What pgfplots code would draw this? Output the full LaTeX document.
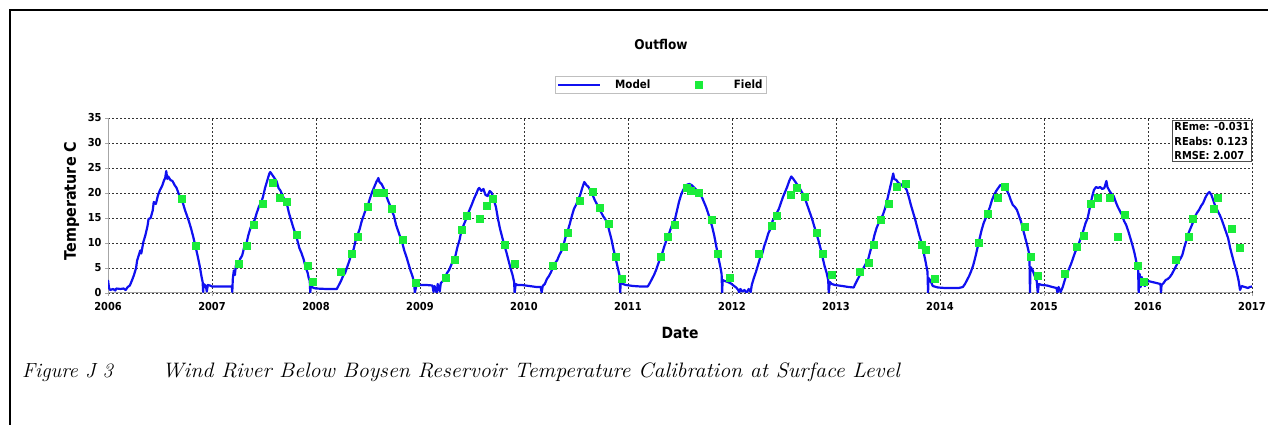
\documentclass[border=0pt]{standalone}
\usepackage{fontspec}
\setsansfont{DejaVu Sans Condensed}
\usepackage{pgfplots}
\pgfplotsset{compat=1.18}
\definecolor{modelblue}{HTML}{1010F0}
\definecolor{fieldgreen}{HTML}{1AEC3A}
\newcommand{\chartfont}[1]{\sffamily\bfseries\fontsize{#1}{#1}\selectfont}

\begin{document}
\begin{tikzpicture}
\useasboundingbox (0,0) rectangle (1268bp,425bp);
% page frame (top and left only)
\draw[line width=2bp] (9.5bp,0bp) -- (9.5bp,414.5bp) -- (1268bp,414.5bp);

\begin{axis}[
    at={(108bp,132bp)}, anchor=south west,
    scale only axis, width=1144bp, height=175bp,
    xmin=2006, xmax=2017, ymin=0, ymax=35,
    xtick={2006,2007,...,2017}, ytick={0,5,...,35},
    axis x line*=bottom, axis y line*=left,
    axis line style={draw=gray!70, line width=1bp},
    tick align=outside, major tick length=3bp,
    tick style={gray!70, line width=0.8bp},
    grid=major,
    grid style={black!80, line width=0.6bp, dash pattern=on 2bp off 2bp},
    /pgf/number format/assume math mode=true,
    ticklabel style={font=\chartfont{11}},
    xticklabel style={/pgf/number format/1000 sep={}, yshift=-3bp},
    xlabel={Date},
    xlabel style={at={(axis description cs:0.5,-0.2286)}, anchor=center, font=\chartfont{15.5}},
    ylabel={Temperature C},
    ylabel style={at={(axis description cs:-0.0319,0.526)}, anchor=center, font=\chartfont{16}},
    title={Outflow},
    title style={at={(axis description cs:0.4834,1.388)}, anchor=center, font=\chartfont{13.5}},
    legend columns=2,
    legend style={at={(axis description cs:0.4834,1.1886)}, anchor=center,
        draw=gray!50, line width=0.8bp, font=\chartfont{11.5},
        inner ysep=1.5bp, inner xsep=2bp,
        /tikz/every odd column/.append style={column sep=12bp},
        /tikz/every even column/.append style={column sep=25.5bp}},
]
\addplot[modelblue, line width=2.2bp, line join=round,
    legend image code/.code={\draw[modelblue, line width=1.6bp] (0bp,0bp) -- (42bp,0bp);}]
coordinates {
(2006.00,2.6) (2006.01,1.0) (2006.02,0.6) (2006.05,0.8) (2006.07,0.5) (2006.08,0.9)
(2006.12,0.8) (2006.15,0.9) (2006.17,0.6) (2006.19,1.2) (2006.21,1.5) (2006.23,2.5)
(2006.25,3.6) (2006.27,5.0) (2006.28,6.5) (2006.30,7.8) (2006.31,8.5) (2006.32,7.9)
(2006.34,10.2) (2006.36,11.6) (2006.38,13.4) (2006.39,14.8) (2006.41,15.0) (2006.43,16.5)
(2006.44,18.2) (2006.46,17.8) (2006.48,19.5) (2006.50,20.6) (2006.52,21.4) (2006.54,22.6)
(2006.55,23.0) (2006.56,24.4) (2006.57,22.8) (2006.58,23.3) (2006.60,22.6) (2006.62,22.4)
(2006.64,21.6) (2006.66,21.0) (2006.68,19.8) (2006.70,19.0) (2006.72,18.0) (2006.74,16.6)
(2006.76,15.4) (2006.78,14.2) (2006.80,12.8) (2006.82,11.2) (2006.84,9.4) (2006.86,7.6)
(2006.88,5.6) (2006.90,3.2) (2006.91,2.2) (2006.915,0.2) (2006.92,1.8) (2006.94,1.4)
(2006.95,0.3) (2006.96,1.6) (2006.98,1.5) (2007.00,1.3) (2007.10,1.3) (2007.19,1.3)
(2007.195,0.2) (2007.20,2.8) (2007.21,4.5) (2007.22,3.6) (2007.23,5.6) (2007.25,5.2)
(2007.27,6.8) (2007.29,7.5) (2007.31,9.2) (2007.33,9.8) (2007.35,11.6) (2007.37,13.0)
(2007.39,14.0) (2007.41,14.6) (2007.43,16.0) (2007.45,17.2) (2007.47,18.0) (2007.49,19.2)
(2007.51,21.0) (2007.53,22.4) (2007.55,23.8) (2007.56,24.2) (2007.58,23.6) (2007.60,23.0)
(2007.62,22.4) (2007.64,21.0) (2007.66,20.4) (2007.68,19.4) (2007.70,18.6) (2007.72,17.8)
(2007.74,16.0) (2007.76,14.6) (2007.78,13.2) (2007.80,12.0) (2007.82,10.6) (2007.84,9.0)
(2007.86,8.0) (2007.88,6.8) (2007.90,5.2) (2007.92,4.0) (2007.93,3.0) (2007.94,2.4)
(2007.945,0.0) (2007.95,1.8) (2007.96,1.2) (2007.98,1.0) (2008.00,0.9) (2008.10,0.8)
(2008.20,0.8) (2008.22,1.6) (2008.24,2.4) (2008.26,3.4) (2008.28,4.0) (2008.30,5.2)
(2008.32,6.4) (2008.34,7.8) (2008.36,8.6) (2008.38,10.4) (2008.40,11.6) (2008.42,12.8)
(2008.44,14.4) (2008.46,15.6) (2008.48,16.8) (2008.50,17.6) (2008.52,19.0) (2008.54,20.2)
(2008.56,21.2) (2008.58,22.2) (2008.60,23.0) (2008.61,22.2) (2008.63,21.8) (2008.65,21.0)
(2008.67,19.8) (2008.69,18.6) (2008.71,17.6) (2008.73,16.4) (2008.75,15.4) (2008.77,13.6)
(2008.79,12.4) (2008.81,11.2) (2008.83,10.0) (2008.85,8.4) (2008.87,7.2) (2008.89,5.8)
(2008.91,4.4) (2008.93,3.2) (2008.945,1.8) (2008.95,0.0) (2008.96,1.0) (2008.97,1.8)
(2009.00,1.6) (2009.06,1.6) (2009.12,1.5) (2009.13,0.2) (2009.14,1.4) (2009.16,0.0)
(2009.17,1.8) (2009.19,0.3) (2009.20,2.0) (2009.22,2.4) (2009.24,3.2) (2009.26,4.0)
(2009.28,4.6) (2009.30,5.6) (2009.32,6.6) (2009.34,7.4) (2009.36,9.2) (2009.38,10.6)
(2009.40,12.6) (2009.42,13.6) (2009.44,14.6) (2009.46,15.8) (2009.48,16.8) (2009.50,17.8)
(2009.52,18.9) (2009.54,19.8) (2009.56,20.8) (2009.57,21.0) (2009.59,20.4) (2009.61,20.8)
(2009.63,19.6) (2009.65,19.4) (2009.67,20.4) (2009.69,20.0) (2009.71,18.6) (2009.73,17.2)
(2009.75,14.8) (2009.77,12.8) (2009.79,11.2) (2009.81,9.6) (2009.83,8.2) (2009.85,6.6)
(2009.87,5.0) (2009.89,3.6) (2009.905,2.2) (2009.91,0.0) (2009.92,1.8) (2009.94,1.6)
(2009.98,1.6) (2010.05,1.4) (2010.12,1.2) (2010.16,1.2) (2010.17,0.1) (2010.18,1.4)
(2010.20,1.8) (2010.22,2.8) (2010.24,3.4) (2010.26,4.2) (2010.28,5.2) (2010.30,6.0)
(2010.32,6.6) (2010.34,7.6) (2010.36,8.4) (2010.38,9.6) (2010.40,11.2) (2010.42,12.4)
(2010.44,13.8) (2010.46,15.4) (2010.48,16.8) (2010.50,17.6) (2010.52,18.6) (2010.54,19.6)
(2010.56,21.0) (2010.58,22.2) (2010.60,21.6) (2010.62,21.2) (2010.64,20.4) (2010.66,19.6)
(2010.68,18.6) (2010.70,17.8) (2010.72,16.8) (2010.74,16.2) (2010.76,15.4) (2010.78,14.8)
(2010.80,14.0) (2010.82,12.4) (2010.84,10.8) (2010.86,8.8) (2010.88,7.0) (2010.90,5.2)
(2010.92,3.4) (2010.925,0.0) (2010.93,2.4) (2010.95,1.8) (2010.98,1.6) (2011.05,1.4)
(2011.12,1.3) (2011.19,1.3) (2011.21,2.0) (2011.23,2.8) (2011.25,3.6) (2011.27,4.6)
(2011.29,5.8) (2011.31,7.0) (2011.33,8.0) (2011.35,9.4) (2011.37,10.6) (2011.39,11.6)
(2011.41,12.8) (2011.43,14.0) (2011.45,14.6) (2011.47,16.4) (2011.49,18.2) (2011.51,19.6)
(2011.53,20.6) (2011.55,21.2) (2011.57,21.7) (2011.59,21.8) (2011.61,21.6) (2011.63,21.2)
(2011.65,20.8) (2011.67,20.4) (2011.69,20.0) (2011.71,19.2) (2011.73,18.2) (2011.75,17.2)
(2011.77,16.0) (2011.79,14.6) (2011.81,13.2) (2011.83,11.4) (2011.85,9.2) (2011.87,7.0)
(2011.89,5.0) (2011.90,3.8) (2011.905,0.0) (2011.91,2.6) (2011.93,2.4) (2011.96,2.2)
(2011.99,1.9) (2012.02,1.4) (2012.04,1.1) (2012.06,0.6) (2012.07,0.1) (2012.08,0.8)
(2012.10,0.3) (2012.12,0.6) (2012.14,0.0) (2012.16,0.8) (2012.18,0.2) (2012.19,1.6)
(2012.21,3.0) (2012.23,4.2) (2012.25,5.6) (2012.27,7.0) (2012.29,7.8) (2012.31,9.4)
(2012.33,10.6) (2012.35,12.0) (2012.37,12.8) (2012.39,14.4) (2012.41,15.2) (2012.43,16.0)
(2012.45,16.8) (2012.47,18.0) (2012.49,19.2) (2012.51,20.2) (2012.53,21.2) (2012.55,22.4)
(2012.57,23.3) (2012.59,22.8) (2012.61,22.2) (2012.63,21.6) (2012.65,21.0) (2012.67,20.2)
(2012.69,19.6) (2012.71,18.4) (2012.73,17.2) (2012.75,16.0) (2012.77,14.8) (2012.79,13.4)
(2012.81,12.0) (2012.83,10.6) (2012.85,9.0) (2012.87,7.2) (2012.89,5.4) (2012.91,4.0)
(2012.925,2.6) (2012.93,0.0) (2012.94,2.2) (2012.96,1.8) (2012.99,1.6) (2013.06,1.4)
(2013.12,1.2) (2013.17,1.1) (2013.19,2.0) (2013.21,2.8) (2013.23,3.6) (2013.25,4.4)
(2013.27,5.2) (2013.29,6.0) (2013.31,6.8) (2013.33,8.4) (2013.35,9.8) (2013.37,11.6)
(2013.39,13.0) (2013.41,14.0) (2013.43,14.8) (2013.45,15.6) (2013.47,16.8) (2013.49,18.4)
(2013.51,20.2) (2013.53,22.0) (2013.55,23.9) (2013.56,22.8) (2013.58,22.6) (2013.60,22.0)
(2013.62,21.8) (2013.64,21.4) (2013.66,21.2) (2013.68,20.6) (2013.70,19.2) (2013.72,17.6)
(2013.74,16.2) (2013.76,14.8) (2013.78,13.2) (2013.80,11.6) (2013.82,10.2) (2013.84,8.4)
(2013.86,6.4) (2013.88,4.2) (2013.885,0.0) (2013.89,3.0) (2013.91,2.4) (2013.93,1.4)
(2013.98,1.1) (2014.05,1.0) (2014.12,1.0) (2014.18,1.0) (2014.22,1.2) (2014.24,1.8)
(2014.26,2.6) (2014.28,3.4) (2014.30,4.4) (2014.32,5.6) (2014.34,7.2) (2014.36,9.0)
(2014.38,10.8) (2014.40,12.6) (2014.42,14.0) (2014.44,15.0) (2014.46,16.0) (2014.48,17.2)
(2014.50,18.6) (2014.52,19.6) (2014.54,20.4) (2014.56,21.0) (2014.58,21.6) (2014.60,21.4)
(2014.62,21.0) (2014.64,20.6) (2014.66,19.8) (2014.68,18.6) (2014.70,17.6) (2014.72,17.2)
(2014.74,16.6) (2014.76,15.4) (2014.78,14.2) (2014.80,12.6) (2014.82,11.0) (2014.84,9.4)
(2014.86,7.6) (2014.865,0.0) (2014.87,5.2) (2014.89,4.6) (2014.91,3.4) (2014.93,2.4)
(2014.94,0.0) (2014.95,1.8) (2014.98,1.6) (2015.03,1.5) (2015.08,1.2) (2015.12,1.0)
(2015.13,0.0) (2015.14,1.2) (2015.16,0.2) (2015.18,1.2) (2015.20,2.6) (2015.22,3.8)
(2015.24,4.8) (2015.26,5.8) (2015.28,7.0) (2015.30,8.2) (2015.32,9.0) (2015.34,10.2)
(2015.36,11.4) (2015.38,12.6) (2015.40,14.0) (2015.42,15.0) (2015.44,17.0) (2015.46,19.0)
(2015.48,20.6) (2015.50,21.2) (2015.52,21.0) (2015.54,21.2) (2015.56,20.8) (2015.58,21.0)
(2015.60,22.4) (2015.61,21.2) (2015.63,20.4) (2015.65,19.8) (2015.67,19.4) (2015.69,18.2)
(2015.71,17.2) (2015.73,16.4) (2015.75,15.6) (2015.77,14.4) (2015.79,13.6) (2015.81,12.4)
(2015.83,11.0) (2015.85,9.6) (2015.87,8.0) (2015.89,6.0) (2015.905,4.6) (2015.91,0.0)
(2015.92,3.8) (2015.93,1.2) (2015.94,3.2) (2015.95,2.0) (2015.97,1.4) (2016.00,2.4)
(2016.04,2.2) (2016.08,2.0) (2016.12,1.8) (2016.125,0.0) (2016.13,1.6) (2016.15,2.0)
(2016.17,2.6) (2016.19,2.8) (2016.21,3.2) (2016.23,3.8) (2016.25,4.6) (2016.27,5.4)
(2016.29,6.2) (2016.31,6.8) (2016.33,7.6) (2016.35,9.2) (2016.37,10.6) (2016.39,12.0)
(2016.41,13.0) (2016.43,14.0) (2016.45,15.2) (2016.47,16.0) (2016.49,16.6) (2016.51,17.4)
(2016.53,18.0) (2016.55,19.0) (2016.57,19.8) (2016.59,20.2) (2016.61,19.6) (2016.63,18.4)
(2016.65,17.2) (2016.67,16.4) (2016.69,15.6) (2016.71,14.6) (2016.73,13.4) (2016.75,12.2)
(2016.77,11.0) (2016.79,9.0) (2016.81,7.4) (2016.83,5.8) (2016.85,4.4) (2016.87,2.6)
(2016.885,0.6) (2016.90,1.4) (2016.93,1.2) (2016.96,1.0) (2016.98,1.2) (2017.00,1.3)
};
\addlegendentry{Model}

\addplot[only marks, mark=square*, mark size=3.5bp, mark options={draw=fieldgreen, fill=fieldgreen},
    legend image code/.code={\path[draw=none, fill=none] (0bp,0bp) -- (42bp,0bp);
        \fill[fieldgreen] (17.5bp,-3.5bp) rectangle (24.5bp,3.5bp);}]
coordinates {
(2006.71,18.9) (2006.84,9.4)
(2007.26,5.9) (2007.33,9.5) (2007.40,13.7) (2007.49,17.9) (2007.58,22.1) (2007.65,19.0)
(2007.72,18.2) (2007.81,11.7) (2007.92,5.4) (2007.97,2.2)
(2008.24,4.3) (2008.34,7.8) (2008.40,11.2) (2008.50,17.3) (2008.58,20.1) (2008.65,20.1)
(2008.73,16.8) (2008.83,10.7) (2008.96,2.1)
(2009.25,3.1) (2009.33,6.7) (2009.40,12.6) (2009.45,15.5) (2009.57,14.8) (2009.64,17.4)
(2009.70,18.9) (2009.81,9.7) (2009.91,5.8)
(2010.28,5.4) (2010.38,9.3) (2010.42,12.1) (2010.54,18.4) (2010.66,20.3) (2010.73,17.1)
(2010.81,13.9) (2010.88,7.3) (2010.94,2.9)
(2011.31,7.3) (2011.38,11.2) (2011.45,13.7) (2011.56,21.1) (2011.60,20.5) (2011.68,20.1)
(2011.80,14.6) (2011.86,7.8) (2011.98,3.1)
(2012.26,7.9) (2012.38,13.5) (2012.43,15.4) (2012.56,19.7) (2012.62,21.1) (2012.70,19.3)
(2012.81,12.1) (2012.87,7.9) (2012.96,3.6)
(2013.23,4.3) (2013.31,6.1) (2013.36,9.7) (2013.43,14.7) (2013.51,17.8) (2013.58,21.3)
(2013.67,21.9) (2013.82,9.7) (2013.86,8.6) (2013.95,2.9)
(2014.37,10.1) (2014.46,15.9) (2014.55,19.0) (2014.62,21.2) (2014.81,13.3) (2014.87,7.2)
(2014.94,3.4)
(2015.20,3.9) (2015.31,9.2) (2015.38,11.4) (2015.45,17.8) (2015.52,19.0) (2015.63,19.0)
(2015.71,11.3) (2015.78,15.7) (2015.90,5.4) (2015.96,2.2)
(2016.27,6.6) (2016.39,11.3) (2016.43,14.8) (2016.63,16.9) (2016.67,19.0) (2016.80,12.8)
(2016.88,9.1)
};
\addlegendentry{Field}

\node[draw=black!70, line width=1bp, fill=white, align=left, anchor=north east,
    inner xsep=2bp, inner ysep=2bp, font=\sffamily\bfseries\fontsize{11}{14.5}\selectfont]
    at (rel axis cs:1,1) [yshift=-2bp] {REme: -0.031\\REabs: 0.123\\RMSE: 2.007};
\end{axis}

% figure caption
\node[anchor=base west, inner sep=0pt, font=\itshape\fontsize{20.5}{22}\selectfont] at (22bp,47bp) {Figure J 3};
\node[anchor=base west, inner sep=0pt, font=\itshape\fontsize{21}{22}\selectfont] at (162bp,47bp)
    {\scalebox{1.05}[1]{Wind River Below Boysen Reservoir Temperature Calibration at Surface Level}};
\end{tikzpicture}
\end{document}
